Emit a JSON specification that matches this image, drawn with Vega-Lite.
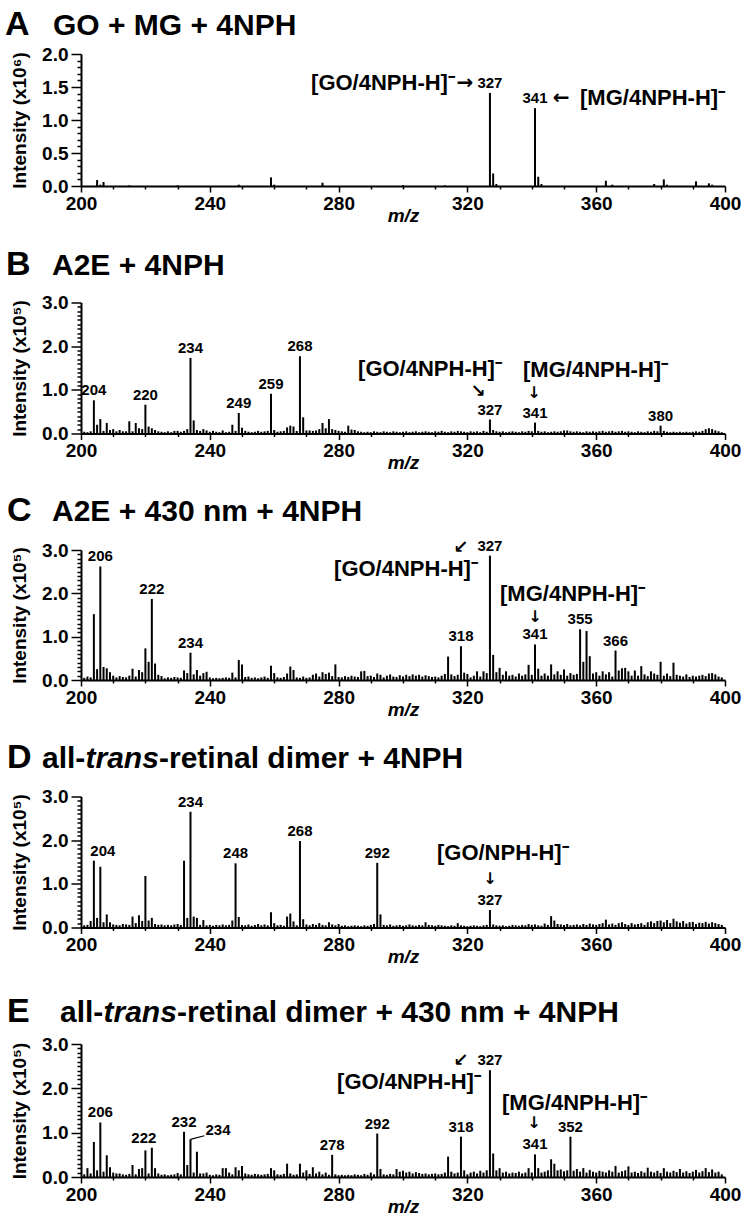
{
"$schema": "https://vega.github.io/schema/vega-lite/v6.json",
"padding": {"left": 5, "top": 8, "right": 5, "bottom": 5},
"spacing": 116.5,
"bounds": "flush",
"config": {
 "view": {"stroke": null},
 "font": "Liberation Sans",
 "axis": {"grid": false, "domainColor": "black", "domainWidth": 2, "tickColor": "black", "tickWidth": 1.5, "labelColor": "black", "labelFont": "Liberation Sans", "labelFontSize": 19, "labelFontWeight": "bold", "titleColor": "black", "titleFont": "Liberation Sans", "titleFontSize": 19, "titleFontWeight": "bold", "labelOverlap": false},
 "text": {"font": "Liberation Sans", "fontWeight": "bold", "color": "black"},
 "rule": {"color": "black"}
},
"datasets": {
"spec": [
{"p":"A","mz":205,"i":0.09},{"p":"A","mz":206,"i":0.02},{"p":"A","mz":207,"i":0.06},{"p":"A","mz":215,"i":0.01},{"p":"A","mz":230,"i":0.01},{"p":"A","mz":249,"i":0.02},{"p":"A","mz":259,"i":0.13},{"p":"A","mz":260,"i":0.02},{"p":"A","mz":275,"i":0.05},{"p":"A","mz":300,"i":0.01},{"p":"A","mz":313,"i":0.01},{"p":"A","mz":327,"i":1.41,"L":1},{"p":"A","mz":328,"i":0.19},{"p":"A","mz":329,"i":0.03},{"p":"A","mz":341,"i":1.18,"L":1},{"p":"A","mz":342,"i":0.14},{"p":"A","mz":343,"i":0.03},{"p":"A","mz":363,"i":0.08},{"p":"A","mz":365,"i":0.02},{"p":"A","mz":378,"i":0.03},{"p":"A","mz":381,"i":0.1},{"p":"A","mz":382,"i":0.02},{"p":"A","mz":391,"i":0.07},{"p":"A","mz":395,"i":0.04},{"p":"A","mz":396,"i":0.02},

{"p":"B","mz":201,"i":0.04},{"p":"B","mz":202,"i":0.03},{"p":"B","mz":203,"i":0.05},{"p":"B","mz":204,"i":0.76,"L":1},{"p":"B","mz":205,"i":0.2},{"p":"B","mz":206,"i":0.33},{"p":"B","mz":207,"i":0.06},{"p":"B","mz":208,"i":0.24},{"p":"B","mz":209,"i":0.08},{"p":"B","mz":210,"i":0.1},
{"p":"B","mz":211,"i":0.05},{"p":"B","mz":212,"i":0.08},{"p":"B","mz":213,"i":0.05},{"p":"B","mz":214,"i":0.05},{"p":"B","mz":215,"i":0.28},{"p":"B","mz":216,"i":0.05},{"p":"B","mz":217,"i":0.24},{"p":"B","mz":218,"i":0.12},{"p":"B","mz":219,"i":0.1},{"p":"B","mz":220,"i":0.66,"L":1},
{"p":"B","mz":221,"i":0.16},{"p":"B","mz":222,"i":0.12},{"p":"B","mz":223,"i":0.08},{"p":"B","mz":224,"i":0.05},{"p":"B","mz":225,"i":0.04},{"p":"B","mz":226,"i":0.03},{"p":"B","mz":227,"i":0.05},{"p":"B","mz":228,"i":0.03},{"p":"B","mz":229,"i":0.06},{"p":"B","mz":230,"i":0.06},
{"p":"B","mz":231,"i":0.04},{"p":"B","mz":232,"i":0.06},{"p":"B","mz":233,"i":0.1},{"p":"B","mz":234,"i":1.73,"L":1},{"p":"B","mz":235,"i":0.3},{"p":"B","mz":236,"i":0.08},{"p":"B","mz":237,"i":0.06},{"p":"B","mz":238,"i":0.1},{"p":"B","mz":239,"i":0.07},{"p":"B","mz":240,"i":0.04},
{"p":"B","mz":241,"i":0.06},{"p":"B","mz":242,"i":0.04},{"p":"B","mz":243,"i":0.03},{"p":"B","mz":244,"i":0.07},{"p":"B","mz":245,"i":0.03},{"p":"B","mz":246,"i":0.04},{"p":"B","mz":247,"i":0.2},{"p":"B","mz":248,"i":0.06},{"p":"B","mz":249,"i":0.47,"L":1},{"p":"B","mz":250,"i":0.13},
{"p":"B","mz":251,"i":0.06},{"p":"B","mz":252,"i":0.04},{"p":"B","mz":253,"i":0.03},{"p":"B","mz":254,"i":0.04},{"p":"B","mz":255,"i":0.06},{"p":"B","mz":256,"i":0.04},{"p":"B","mz":257,"i":0.05},{"p":"B","mz":258,"i":0.06},{"p":"B","mz":259,"i":0.91,"L":1},{"p":"B","mz":260,"i":0.08},
{"p":"B","mz":261,"i":0.04},{"p":"B","mz":262,"i":0.05},{"p":"B","mz":263,"i":0.06},{"p":"B","mz":264,"i":0.14},{"p":"B","mz":265,"i":0.18},{"p":"B","mz":266,"i":0.16},{"p":"B","mz":267,"i":0.06},{"p":"B","mz":268,"i":1.77,"L":1},{"p":"B","mz":269,"i":0.37},{"p":"B","mz":270,"i":0.07},
{"p":"B","mz":271,"i":0.07},{"p":"B","mz":272,"i":0.06},{"p":"B","mz":273,"i":0.07},{"p":"B","mz":274,"i":0.1},{"p":"B","mz":275,"i":0.24},{"p":"B","mz":276,"i":0.12},{"p":"B","mz":277,"i":0.33},{"p":"B","mz":278,"i":0.1},{"p":"B","mz":279,"i":0.08},{"p":"B","mz":280,"i":0.06},
{"p":"B","mz":281,"i":0.05},{"p":"B","mz":282,"i":0.04},{"p":"B","mz":283,"i":0.18},{"p":"B","mz":284,"i":0.09},{"p":"B","mz":285,"i":0.08},{"p":"B","mz":286,"i":0.05},{"p":"B","mz":287,"i":0.04},{"p":"B","mz":288,"i":0.03},{"p":"B","mz":289,"i":0.04},{"p":"B","mz":290,"i":0.03},
{"p":"B","mz":291,"i":0.05},{"p":"B","mz":292,"i":0.04},{"p":"B","mz":293,"i":0.03},{"p":"B","mz":294,"i":0.05},{"p":"B","mz":295,"i":0.04},{"p":"B","mz":296,"i":0.03},{"p":"B","mz":297,"i":0.05},{"p":"B","mz":298,"i":0.04},{"p":"B","mz":299,"i":0.03},{"p":"B","mz":300,"i":0.04},
{"p":"B","mz":301,"i":0.05},{"p":"B","mz":302,"i":0.03},{"p":"B","mz":303,"i":0.04},{"p":"B","mz":304,"i":0.05},{"p":"B","mz":305,"i":0.03},{"p":"B","mz":306,"i":0.04},{"p":"B","mz":307,"i":0.05},{"p":"B","mz":308,"i":0.04},{"p":"B","mz":309,"i":0.03},{"p":"B","mz":310,"i":0.05},
{"p":"B","mz":311,"i":0.04},{"p":"B","mz":312,"i":0.06},{"p":"B","mz":313,"i":0.04},{"p":"B","mz":314,"i":0.03},{"p":"B","mz":315,"i":0.05},{"p":"B","mz":316,"i":0.04},{"p":"B","mz":317,"i":0.06},{"p":"B","mz":318,"i":0.05},{"p":"B","mz":319,"i":0.04},{"p":"B","mz":320,"i":0.03},
{"p":"B","mz":321,"i":0.05},{"p":"B","mz":322,"i":0.04},{"p":"B","mz":323,"i":0.05},{"p":"B","mz":324,"i":0.03},{"p":"B","mz":325,"i":0.06},{"p":"B","mz":326,"i":0.04},{"p":"B","mz":327,"i":0.32,"L":1},{"p":"B","mz":328,"i":0.08},{"p":"B","mz":329,"i":0.05},{"p":"B","mz":330,"i":0.04},
{"p":"B","mz":331,"i":0.05},{"p":"B","mz":332,"i":0.03},{"p":"B","mz":333,"i":0.04},{"p":"B","mz":334,"i":0.05},{"p":"B","mz":335,"i":0.04},{"p":"B","mz":336,"i":0.03},{"p":"B","mz":337,"i":0.05},{"p":"B","mz":338,"i":0.04},{"p":"B","mz":339,"i":0.06},{"p":"B","mz":340,"i":0.05},
{"p":"B","mz":341,"i":0.25,"L":1},{"p":"B","mz":342,"i":0.06},{"p":"B","mz":343,"i":0.04},{"p":"B","mz":344,"i":0.05},{"p":"B","mz":345,"i":0.03},{"p":"B","mz":346,"i":0.04},{"p":"B","mz":347,"i":0.05},{"p":"B","mz":348,"i":0.04},{"p":"B","mz":349,"i":0.05},{"p":"B","mz":350,"i":0.07},
{"p":"B","mz":351,"i":0.07},{"p":"B","mz":352,"i":0.05},{"p":"B","mz":353,"i":0.04},{"p":"B","mz":354,"i":0.05},{"p":"B","mz":355,"i":0.04},{"p":"B","mz":356,"i":0.03},{"p":"B","mz":357,"i":0.05},{"p":"B","mz":358,"i":0.04},{"p":"B","mz":359,"i":0.05},{"p":"B","mz":360,"i":0.04},
{"p":"B","mz":361,"i":0.05},{"p":"B","mz":362,"i":0.06},{"p":"B","mz":363,"i":0.04},{"p":"B","mz":364,"i":0.05},{"p":"B","mz":365,"i":0.06},{"p":"B","mz":366,"i":0.04},{"p":"B","mz":367,"i":0.05},{"p":"B","mz":368,"i":0.06},{"p":"B","mz":369,"i":0.04},{"p":"B","mz":370,"i":0.05},
{"p":"B","mz":371,"i":0.04},{"p":"B","mz":372,"i":0.03},{"p":"B","mz":373,"i":0.05},{"p":"B","mz":374,"i":0.04},{"p":"B","mz":375,"i":0.03},{"p":"B","mz":376,"i":0.05},{"p":"B","mz":377,"i":0.04},{"p":"B","mz":378,"i":0.06},{"p":"B","mz":379,"i":0.05},{"p":"B","mz":380,"i":0.18,"L":1},
{"p":"B","mz":381,"i":0.06},{"p":"B","mz":382,"i":0.04},{"p":"B","mz":383,"i":0.03},{"p":"B","mz":384,"i":0.04},{"p":"B","mz":385,"i":0.03},{"p":"B","mz":386,"i":0.04},{"p":"B","mz":387,"i":0.03},{"p":"B","mz":388,"i":0.04},{"p":"B","mz":389,"i":0.03},{"p":"B","mz":390,"i":0.04},
{"p":"B","mz":391,"i":0.05},{"p":"B","mz":392,"i":0.04},{"p":"B","mz":393,"i":0.06},{"p":"B","mz":394,"i":0.1},{"p":"B","mz":395,"i":0.12},{"p":"B","mz":396,"i":0.1},{"p":"B","mz":397,"i":0.07},{"p":"B","mz":398,"i":0.05},{"p":"B","mz":399,"i":0.03},

{"p":"C","mz":201,"i":0.05},{"p":"C","mz":202,"i":0.08},{"p":"C","mz":203,"i":0.06},{"p":"C","mz":204,"i":1.52},{"p":"C","mz":205,"i":0.25},{"p":"C","mz":206,"i":2.62,"L":1},{"p":"C","mz":207,"i":0.3},{"p":"C","mz":208,"i":0.27},{"p":"C","mz":209,"i":0.18},{"p":"C","mz":210,"i":0.1},
{"p":"C","mz":211,"i":0.06},{"p":"C","mz":212,"i":0.09},{"p":"C","mz":213,"i":0.07},{"p":"C","mz":214,"i":0.06},{"p":"C","mz":215,"i":0.1},{"p":"C","mz":216,"i":0.26},{"p":"C","mz":217,"i":0.08},{"p":"C","mz":218,"i":0.23},{"p":"C","mz":219,"i":0.18},{"p":"C","mz":220,"i":0.73},
{"p":"C","mz":221,"i":0.42},{"p":"C","mz":222,"i":1.87,"L":1},{"p":"C","mz":223,"i":0.38},{"p":"C","mz":224,"i":0.12},{"p":"C","mz":225,"i":0.09},{"p":"C","mz":226,"i":0.04},{"p":"C","mz":227,"i":0.06},{"p":"C","mz":228,"i":0.05},{"p":"C","mz":229,"i":0.07},{"p":"C","mz":230,"i":0.06},
{"p":"C","mz":231,"i":0.05},{"p":"C","mz":232,"i":0.22},{"p":"C","mz":233,"i":0.16},{"p":"C","mz":234,"i":0.63,"L":1},{"p":"C","mz":235,"i":0.13},{"p":"C","mz":236,"i":0.23},{"p":"C","mz":237,"i":0.1},{"p":"C","mz":238,"i":0.16},{"p":"C","mz":239,"i":0.19},{"p":"C","mz":240,"i":0.06},
{"p":"C","mz":241,"i":0.04},{"p":"C","mz":242,"i":0.05},{"p":"C","mz":243,"i":0.04},{"p":"C","mz":244,"i":0.05},{"p":"C","mz":245,"i":0.06},{"p":"C","mz":246,"i":0.05},{"p":"C","mz":247,"i":0.17},{"p":"C","mz":248,"i":0.06},{"p":"C","mz":249,"i":0.46},{"p":"C","mz":250,"i":0.36},
{"p":"C","mz":251,"i":0.07},{"p":"C","mz":252,"i":0.08},{"p":"C","mz":253,"i":0.05},{"p":"C","mz":254,"i":0.06},{"p":"C","mz":255,"i":0.04},{"p":"C","mz":256,"i":0.06},{"p":"C","mz":257,"i":0.08},{"p":"C","mz":258,"i":0.05},{"p":"C","mz":259,"i":0.33},{"p":"C","mz":260,"i":0.16},
{"p":"C","mz":261,"i":0.06},{"p":"C","mz":262,"i":0.05},{"p":"C","mz":263,"i":0.07},{"p":"C","mz":264,"i":0.15},{"p":"C","mz":265,"i":0.31},{"p":"C","mz":266,"i":0.23},{"p":"C","mz":267,"i":0.06},{"p":"C","mz":268,"i":0.05},{"p":"C","mz":269,"i":0.08},{"p":"C","mz":270,"i":0.05},
{"p":"C","mz":271,"i":0.06},{"p":"C","mz":272,"i":0.12},{"p":"C","mz":273,"i":0.15},{"p":"C","mz":274,"i":0.08},{"p":"C","mz":275,"i":0.18},{"p":"C","mz":276,"i":0.14},{"p":"C","mz":277,"i":0.17},{"p":"C","mz":278,"i":0.09},{"p":"C","mz":279,"i":0.36},{"p":"C","mz":280,"i":0.07},
{"p":"C","mz":281,"i":0.06},{"p":"C","mz":282,"i":0.09},{"p":"C","mz":283,"i":0.07},{"p":"C","mz":284,"i":0.1},{"p":"C","mz":285,"i":0.08},{"p":"C","mz":286,"i":0.07},{"p":"C","mz":287,"i":0.2},{"p":"C","mz":288,"i":0.21},{"p":"C","mz":289,"i":0.09},{"p":"C","mz":290,"i":0.1},
{"p":"C","mz":291,"i":0.07},{"p":"C","mz":292,"i":0.15},{"p":"C","mz":293,"i":0.12},{"p":"C","mz":294,"i":0.06},{"p":"C","mz":295,"i":0.1},{"p":"C","mz":296,"i":0.13},{"p":"C","mz":297,"i":0.08},{"p":"C","mz":298,"i":0.07},{"p":"C","mz":299,"i":0.11},{"p":"C","mz":300,"i":0.08},
{"p":"C","mz":301,"i":0.12},{"p":"C","mz":302,"i":0.09},{"p":"C","mz":303,"i":0.13},{"p":"C","mz":304,"i":0.1},{"p":"C","mz":305,"i":0.12},{"p":"C","mz":306,"i":0.08},{"p":"C","mz":307,"i":0.11},{"p":"C","mz":308,"i":0.09},{"p":"C","mz":309,"i":0.07},{"p":"C","mz":310,"i":0.08},
{"p":"C","mz":311,"i":0.06},{"p":"C","mz":312,"i":0.1},{"p":"C","mz":313,"i":0.14},{"p":"C","mz":314,"i":0.54},{"p":"C","mz":315,"i":0.13},{"p":"C","mz":316,"i":0.09},{"p":"C","mz":317,"i":0.12},{"p":"C","mz":318,"i":0.78,"L":1},{"p":"C","mz":319,"i":0.17},{"p":"C","mz":320,"i":0.14},
{"p":"C","mz":321,"i":0.06},{"p":"C","mz":322,"i":0.1},{"p":"C","mz":323,"i":0.2},{"p":"C","mz":324,"i":0.08},{"p":"C","mz":325,"i":0.2},{"p":"C","mz":326,"i":0.16},{"p":"C","mz":327,"i":2.87,"L":1},{"p":"C","mz":328,"i":0.58},{"p":"C","mz":329,"i":0.18},{"p":"C","mz":330,"i":0.28},
{"p":"C","mz":331,"i":0.12},{"p":"C","mz":332,"i":0.2},{"p":"C","mz":333,"i":0.1},{"p":"C","mz":334,"i":0.12},{"p":"C","mz":335,"i":0.08},{"p":"C","mz":336,"i":0.15},{"p":"C","mz":337,"i":0.1},{"p":"C","mz":338,"i":0.13},{"p":"C","mz":339,"i":0.35},{"p":"C","mz":340,"i":0.12},
{"p":"C","mz":341,"i":0.82,"L":1},{"p":"C","mz":342,"i":0.26},{"p":"C","mz":343,"i":0.1},{"p":"C","mz":344,"i":0.15},{"p":"C","mz":345,"i":0.1},{"p":"C","mz":346,"i":0.36},{"p":"C","mz":347,"i":0.13},{"p":"C","mz":348,"i":0.2},{"p":"C","mz":349,"i":0.12},{"p":"C","mz":350,"i":0.24},
{"p":"C","mz":351,"i":0.1},{"p":"C","mz":352,"i":0.16},{"p":"C","mz":353,"i":0.12},{"p":"C","mz":354,"i":0.14},{"p":"C","mz":355,"i":1.17,"L":1},{"p":"C","mz":356,"i":0.42},{"p":"C","mz":357,"i":1.13},{"p":"C","mz":358,"i":0.55},{"p":"C","mz":359,"i":0.15},{"p":"C","mz":360,"i":0.18},
{"p":"C","mz":361,"i":0.1},{"p":"C","mz":362,"i":0.2},{"p":"C","mz":363,"i":0.13},{"p":"C","mz":364,"i":0.18},{"p":"C","mz":365,"i":0.08},{"p":"C","mz":366,"i":0.68,"L":1},{"p":"C","mz":367,"i":0.22},{"p":"C","mz":368,"i":0.27},{"p":"C","mz":369,"i":0.28},{"p":"C","mz":370,"i":0.2},
{"p":"C","mz":371,"i":0.1},{"p":"C","mz":372,"i":0.22},{"p":"C","mz":373,"i":0.1},{"p":"C","mz":374,"i":0.32},{"p":"C","mz":375,"i":0.13},{"p":"C","mz":376,"i":0.09},{"p":"C","mz":377,"i":0.2},{"p":"C","mz":378,"i":0.15},{"p":"C","mz":379,"i":0.12},{"p":"C","mz":380,"i":0.42},
{"p":"C","mz":381,"i":0.1},{"p":"C","mz":382,"i":0.15},{"p":"C","mz":383,"i":0.09},{"p":"C","mz":384,"i":0.4},{"p":"C","mz":385,"i":0.12},{"p":"C","mz":386,"i":0.1},{"p":"C","mz":387,"i":0.08},{"p":"C","mz":388,"i":0.13},{"p":"C","mz":389,"i":0.07},{"p":"C","mz":390,"i":0.1},
{"p":"C","mz":391,"i":0.08},{"p":"C","mz":392,"i":0.1},{"p":"C","mz":393,"i":0.12},{"p":"C","mz":394,"i":0.09},{"p":"C","mz":395,"i":0.15},{"p":"C","mz":396,"i":0.16},{"p":"C","mz":397,"i":0.13},{"p":"C","mz":398,"i":0.08},{"p":"C","mz":399,"i":0.06},

{"p":"D","mz":201,"i":0.05},{"p":"D","mz":202,"i":0.06},{"p":"D","mz":203,"i":0.15},{"p":"D","mz":204,"i":1.53,"L":3},{"p":"D","mz":205,"i":0.22},{"p":"D","mz":206,"i":1.39},{"p":"D","mz":207,"i":0.12},{"p":"D","mz":208,"i":0.3},{"p":"D","mz":209,"i":0.12},{"p":"D","mz":210,"i":0.07},
{"p":"D","mz":211,"i":0.06},{"p":"D","mz":212,"i":0.05},{"p":"D","mz":213,"i":0.08},{"p":"D","mz":214,"i":0.07},{"p":"D","mz":215,"i":0.06},{"p":"D","mz":216,"i":0.25},{"p":"D","mz":217,"i":0.1},{"p":"D","mz":218,"i":0.28},{"p":"D","mz":219,"i":0.15},{"p":"D","mz":220,"i":1.18},
{"p":"D","mz":221,"i":0.16},{"p":"D","mz":222,"i":0.22},{"p":"D","mz":223,"i":0.08},{"p":"D","mz":224,"i":0.06},{"p":"D","mz":225,"i":0.07},{"p":"D","mz":226,"i":0.05},{"p":"D","mz":227,"i":0.06},{"p":"D","mz":228,"i":0.05},{"p":"D","mz":229,"i":0.07},{"p":"D","mz":230,"i":0.08},
{"p":"D","mz":231,"i":0.06},{"p":"D","mz":232,"i":1.53},{"p":"D","mz":233,"i":0.22},{"p":"D","mz":234,"i":2.65,"L":1},{"p":"D","mz":235,"i":0.25},{"p":"D","mz":236,"i":0.22},{"p":"D","mz":237,"i":0.06},{"p":"D","mz":238,"i":0.17},{"p":"D","mz":239,"i":0.05},{"p":"D","mz":240,"i":0.06},
{"p":"D","mz":241,"i":0.04},{"p":"D","mz":242,"i":0.06},{"p":"D","mz":243,"i":0.05},{"p":"D","mz":244,"i":0.07},{"p":"D","mz":245,"i":0.05},{"p":"D","mz":246,"i":0.06},{"p":"D","mz":247,"i":0.16},{"p":"D","mz":248,"i":1.47,"L":1},{"p":"D","mz":249,"i":0.24},{"p":"D","mz":250,"i":0.06},
{"p":"D","mz":251,"i":0.05},{"p":"D","mz":252,"i":0.07},{"p":"D","mz":253,"i":0.04},{"p":"D","mz":254,"i":0.06},{"p":"D","mz":255,"i":0.08},{"p":"D","mz":256,"i":0.05},{"p":"D","mz":257,"i":0.07},{"p":"D","mz":258,"i":0.05},{"p":"D","mz":259,"i":0.35},{"p":"D","mz":260,"i":0.1},
{"p":"D","mz":261,"i":0.05},{"p":"D","mz":262,"i":0.06},{"p":"D","mz":263,"i":0.04},{"p":"D","mz":264,"i":0.25},{"p":"D","mz":265,"i":0.32},{"p":"D","mz":266,"i":0.14},{"p":"D","mz":267,"i":0.05},{"p":"D","mz":268,"i":1.98,"L":1},{"p":"D","mz":269,"i":0.19},{"p":"D","mz":270,"i":0.07},
{"p":"D","mz":271,"i":0.05},{"p":"D","mz":272,"i":0.08},{"p":"D","mz":273,"i":0.06},{"p":"D","mz":274,"i":0.1},{"p":"D","mz":275,"i":0.06},{"p":"D","mz":276,"i":0.05},{"p":"D","mz":277,"i":0.12},{"p":"D","mz":278,"i":0.07},{"p":"D","mz":279,"i":0.05},{"p":"D","mz":280,"i":0.08},
{"p":"D","mz":281,"i":0.04},{"p":"D","mz":282,"i":0.05},{"p":"D","mz":283,"i":0.03},{"p":"D","mz":284,"i":0.04},{"p":"D","mz":285,"i":0.05},{"p":"D","mz":286,"i":0.04},{"p":"D","mz":287,"i":0.03},{"p":"D","mz":288,"i":0.05},{"p":"D","mz":289,"i":0.04},{"p":"D","mz":290,"i":0.06},
{"p":"D","mz":291,"i":0.08},{"p":"D","mz":292,"i":1.48,"L":1},{"p":"D","mz":293,"i":0.3},{"p":"D","mz":294,"i":0.06},{"p":"D","mz":295,"i":0.05},{"p":"D","mz":296,"i":0.07},{"p":"D","mz":297,"i":0.04},{"p":"D","mz":298,"i":0.05},{"p":"D","mz":299,"i":0.06},{"p":"D","mz":300,"i":0.04},
{"p":"D","mz":301,"i":0.05},{"p":"D","mz":302,"i":0.07},{"p":"D","mz":303,"i":0.05},{"p":"D","mz":304,"i":0.04},{"p":"D","mz":305,"i":0.06},{"p":"D","mz":306,"i":0.05},{"p":"D","mz":307,"i":0.12},{"p":"D","mz":308,"i":0.06},{"p":"D","mz":309,"i":0.05},{"p":"D","mz":310,"i":0.04},
{"p":"D","mz":311,"i":0.06},{"p":"D","mz":312,"i":0.05},{"p":"D","mz":313,"i":0.04},{"p":"D","mz":314,"i":0.03},{"p":"D","mz":315,"i":0.05},{"p":"D","mz":316,"i":0.04},{"p":"D","mz":317,"i":0.1},{"p":"D","mz":318,"i":0.05},{"p":"D","mz":319,"i":0.04},{"p":"D","mz":320,"i":0.03},
{"p":"D","mz":321,"i":0.04},{"p":"D","mz":322,"i":0.05},{"p":"D","mz":323,"i":0.04},{"p":"D","mz":324,"i":0.03},{"p":"D","mz":325,"i":0.05},{"p":"D","mz":326,"i":0.06},{"p":"D","mz":327,"i":0.4,"L":1},{"p":"D","mz":328,"i":0.07},{"p":"D","mz":329,"i":0.05},{"p":"D","mz":330,"i":0.04},
{"p":"D","mz":331,"i":0.05},{"p":"D","mz":332,"i":0.03},{"p":"D","mz":333,"i":0.04},{"p":"D","mz":334,"i":0.06},{"p":"D","mz":335,"i":0.05},{"p":"D","mz":336,"i":0.04},{"p":"D","mz":337,"i":0.06},{"p":"D","mz":338,"i":0.05},{"p":"D","mz":339,"i":0.08},{"p":"D","mz":340,"i":0.06},
{"p":"D","mz":341,"i":0.07},{"p":"D","mz":342,"i":0.05},{"p":"D","mz":343,"i":0.04},{"p":"D","mz":344,"i":0.09},{"p":"D","mz":345,"i":0.06},{"p":"D","mz":346,"i":0.26},{"p":"D","mz":347,"i":0.16},{"p":"D","mz":348,"i":0.08},{"p":"D","mz":349,"i":0.07},{"p":"D","mz":350,"i":0.06},
{"p":"D","mz":351,"i":0.08},{"p":"D","mz":352,"i":0.05},{"p":"D","mz":353,"i":0.06},{"p":"D","mz":354,"i":0.07},{"p":"D","mz":355,"i":0.05},{"p":"D","mz":356,"i":0.08},{"p":"D","mz":357,"i":0.06},{"p":"D","mz":358,"i":0.09},{"p":"D","mz":359,"i":0.07},{"p":"D","mz":360,"i":0.06},
{"p":"D","mz":361,"i":0.08},{"p":"D","mz":362,"i":0.1},{"p":"D","mz":363,"i":0.18},{"p":"D","mz":364,"i":0.07},{"p":"D","mz":365,"i":0.09},{"p":"D","mz":366,"i":0.06},{"p":"D","mz":367,"i":0.1},{"p":"D","mz":368,"i":0.12},{"p":"D","mz":369,"i":0.08},{"p":"D","mz":370,"i":0.06},
{"p":"D","mz":371,"i":0.1},{"p":"D","mz":372,"i":0.07},{"p":"D","mz":373,"i":0.08},{"p":"D","mz":374,"i":0.1},{"p":"D","mz":375,"i":0.06},{"p":"D","mz":376,"i":0.12},{"p":"D","mz":377,"i":0.14},{"p":"D","mz":378,"i":0.1},{"p":"D","mz":379,"i":0.15},{"p":"D","mz":380,"i":0.16},
{"p":"D","mz":381,"i":0.12},{"p":"D","mz":382,"i":0.17},{"p":"D","mz":383,"i":0.1},{"p":"D","mz":384,"i":0.2},{"p":"D","mz":385,"i":0.14},{"p":"D","mz":386,"i":0.11},{"p":"D","mz":387,"i":0.15},{"p":"D","mz":388,"i":0.09},{"p":"D","mz":389,"i":0.12},{"p":"D","mz":390,"i":0.13},
{"p":"D","mz":391,"i":0.08},{"p":"D","mz":392,"i":0.11},{"p":"D","mz":393,"i":0.1},{"p":"D","mz":394,"i":0.13},{"p":"D","mz":395,"i":0.09},{"p":"D","mz":396,"i":0.12},{"p":"D","mz":397,"i":0.1},{"p":"D","mz":398,"i":0.08},{"p":"D","mz":399,"i":0.06},

{"p":"E","mz":201,"i":0.06},{"p":"E","mz":202,"i":0.2},{"p":"E","mz":203,"i":0.08},{"p":"E","mz":204,"i":0.79},{"p":"E","mz":205,"i":0.15},{"p":"E","mz":206,"i":1.23,"L":1},{"p":"E","mz":207,"i":0.12},{"p":"E","mz":208,"i":0.49},{"p":"E","mz":209,"i":0.22},{"p":"E","mz":210,"i":0.1},
{"p":"E","mz":211,"i":0.08},{"p":"E","mz":212,"i":0.08},{"p":"E","mz":213,"i":0.06},{"p":"E","mz":214,"i":0.05},{"p":"E","mz":215,"i":0.07},{"p":"E","mz":216,"i":0.27},{"p":"E","mz":217,"i":0.06},{"p":"E","mz":218,"i":0.18},{"p":"E","mz":219,"i":0.2},{"p":"E","mz":220,"i":0.6},
{"p":"E","mz":221,"i":0.08},{"p":"E","mz":222,"i":0.66,"L":4},{"p":"E","mz":223,"i":0.2},{"p":"E","mz":224,"i":0.08},{"p":"E","mz":225,"i":0.05},{"p":"E","mz":226,"i":0.06},{"p":"E","mz":227,"i":0.04},{"p":"E","mz":228,"i":0.05},{"p":"E","mz":229,"i":0.06},{"p":"E","mz":230,"i":0.09},
{"p":"E","mz":231,"i":0.06},{"p":"E","mz":232,"i":1.02,"L":1},{"p":"E","mz":233,"i":0.27},{"p":"E","mz":234,"i":0.85,"L":2},{"p":"E","mz":235,"i":0.1},{"p":"E","mz":236,"i":0.57},{"p":"E","mz":237,"i":0.08},{"p":"E","mz":238,"i":0.08},{"p":"E","mz":239,"i":0.1},{"p":"E","mz":240,"i":0.05},
{"p":"E","mz":241,"i":0.04},{"p":"E","mz":242,"i":0.06},{"p":"E","mz":243,"i":0.05},{"p":"E","mz":244,"i":0.2},{"p":"E","mz":245,"i":0.2},{"p":"E","mz":246,"i":0.1},{"p":"E","mz":247,"i":0.06},{"p":"E","mz":248,"i":0.22},{"p":"E","mz":249,"i":0.15},{"p":"E","mz":250,"i":0.25},
{"p":"E","mz":251,"i":0.08},{"p":"E","mz":252,"i":0.06},{"p":"E","mz":253,"i":0.05},{"p":"E","mz":254,"i":0.07},{"p":"E","mz":255,"i":0.06},{"p":"E","mz":256,"i":0.05},{"p":"E","mz":257,"i":0.06},{"p":"E","mz":258,"i":0.07},{"p":"E","mz":259,"i":0.2},{"p":"E","mz":260,"i":0.15},
{"p":"E","mz":261,"i":0.06},{"p":"E","mz":262,"i":0.05},{"p":"E","mz":263,"i":0.07},{"p":"E","mz":264,"i":0.3},{"p":"E","mz":265,"i":0.08},{"p":"E","mz":266,"i":0.05},{"p":"E","mz":267,"i":0.06},{"p":"E","mz":268,"i":0.3},{"p":"E","mz":269,"i":0.1},{"p":"E","mz":270,"i":0.15},
{"p":"E","mz":271,"i":0.07},{"p":"E","mz":272,"i":0.22},{"p":"E","mz":273,"i":0.08},{"p":"E","mz":274,"i":0.12},{"p":"E","mz":275,"i":0.06},{"p":"E","mz":276,"i":0.1},{"p":"E","mz":277,"i":0.05},{"p":"E","mz":278,"i":0.5,"L":1},{"p":"E","mz":279,"i":0.06},{"p":"E","mz":280,"i":0.04},
{"p":"E","mz":281,"i":0.05},{"p":"E","mz":282,"i":0.04},{"p":"E","mz":283,"i":0.05},{"p":"E","mz":284,"i":0.04},{"p":"E","mz":285,"i":0.06},{"p":"E","mz":286,"i":0.05},{"p":"E","mz":287,"i":0.04},{"p":"E","mz":288,"i":0.07},{"p":"E","mz":289,"i":0.05},{"p":"E","mz":290,"i":0.1},
{"p":"E","mz":291,"i":0.06},{"p":"E","mz":292,"i":0.98,"L":1},{"p":"E","mz":293,"i":0.18},{"p":"E","mz":294,"i":0.06},{"p":"E","mz":295,"i":0.05},{"p":"E","mz":296,"i":0.07},{"p":"E","mz":297,"i":0.06},{"p":"E","mz":298,"i":0.18},{"p":"E","mz":299,"i":0.12},{"p":"E","mz":300,"i":0.14},
{"p":"E","mz":301,"i":0.1},{"p":"E","mz":302,"i":0.12},{"p":"E","mz":303,"i":0.08},{"p":"E","mz":304,"i":0.11},{"p":"E","mz":305,"i":0.09},{"p":"E","mz":306,"i":0.07},{"p":"E","mz":307,"i":0.08},{"p":"E","mz":308,"i":0.06},{"p":"E","mz":309,"i":0.07},{"p":"E","mz":310,"i":0.08},
{"p":"E","mz":311,"i":0.06},{"p":"E","mz":312,"i":0.07},{"p":"E","mz":313,"i":0.1},{"p":"E","mz":314,"i":0.46},{"p":"E","mz":315,"i":0.12},{"p":"E","mz":316,"i":0.08},{"p":"E","mz":317,"i":0.1},{"p":"E","mz":318,"i":0.91,"L":1},{"p":"E","mz":319,"i":0.15},{"p":"E","mz":320,"i":0.06},
{"p":"E","mz":321,"i":0.1},{"p":"E","mz":322,"i":0.12},{"p":"E","mz":323,"i":0.08},{"p":"E","mz":324,"i":0.14},{"p":"E","mz":325,"i":0.1},{"p":"E","mz":326,"i":0.15},{"p":"E","mz":327,"i":2.41,"L":1},{"p":"E","mz":328,"i":0.53},{"p":"E","mz":329,"i":0.15},{"p":"E","mz":330,"i":0.2},
{"p":"E","mz":331,"i":0.1},{"p":"E","mz":332,"i":0.12},{"p":"E","mz":333,"i":0.08},{"p":"E","mz":334,"i":0.1},{"p":"E","mz":335,"i":0.09},{"p":"E","mz":336,"i":0.12},{"p":"E","mz":337,"i":0.08},{"p":"E","mz":338,"i":0.1},{"p":"E","mz":339,"i":0.2},{"p":"E","mz":340,"i":0.1},
{"p":"E","mz":341,"i":0.51,"L":1},{"p":"E","mz":342,"i":0.2},{"p":"E","mz":343,"i":0.1},{"p":"E","mz":344,"i":0.12},{"p":"E","mz":345,"i":0.15},{"p":"E","mz":346,"i":0.4},{"p":"E","mz":347,"i":0.3},{"p":"E","mz":348,"i":0.15},{"p":"E","mz":349,"i":0.17},{"p":"E","mz":350,"i":0.13},
{"p":"E","mz":351,"i":0.15},{"p":"E","mz":352,"i":0.91,"L":1},{"p":"E","mz":353,"i":0.14},{"p":"E","mz":354,"i":0.18},{"p":"E","mz":355,"i":0.12},{"p":"E","mz":356,"i":0.2},{"p":"E","mz":357,"i":0.1},{"p":"E","mz":358,"i":0.16},{"p":"E","mz":359,"i":0.12},{"p":"E","mz":360,"i":0.1},
{"p":"E","mz":361,"i":0.14},{"p":"E","mz":362,"i":0.12},{"p":"E","mz":363,"i":0.1},{"p":"E","mz":364,"i":0.15},{"p":"E","mz":365,"i":0.12},{"p":"E","mz":366,"i":0.25},{"p":"E","mz":367,"i":0.1},{"p":"E","mz":368,"i":0.13},{"p":"E","mz":369,"i":0.15},{"p":"E","mz":370,"i":0.24},
{"p":"E","mz":371,"i":0.1},{"p":"E","mz":372,"i":0.12},{"p":"E","mz":373,"i":0.09},{"p":"E","mz":374,"i":0.13},{"p":"E","mz":375,"i":0.1},{"p":"E","mz":376,"i":0.21},{"p":"E","mz":377,"i":0.12},{"p":"E","mz":378,"i":0.1},{"p":"E","mz":379,"i":0.14},{"p":"E","mz":380,"i":0.09},
{"p":"E","mz":381,"i":0.2},{"p":"E","mz":382,"i":0.12},{"p":"E","mz":383,"i":0.1},{"p":"E","mz":384,"i":0.14},{"p":"E","mz":385,"i":0.11},{"p":"E","mz":386,"i":0.18},{"p":"E","mz":387,"i":0.1},{"p":"E","mz":388,"i":0.13},{"p":"E","mz":389,"i":0.09},{"p":"E","mz":390,"i":0.12},
{"p":"E","mz":391,"i":0.16},{"p":"E","mz":392,"i":0.1},{"p":"E","mz":393,"i":0.13},{"p":"E","mz":394,"i":0.2},{"p":"E","mz":395,"i":0.11},{"p":"E","mz":396,"i":0.17},{"p":"E","mz":397,"i":0.1},{"p":"E","mz":398,"i":0.12},{"p":"E","mz":399,"i":0.06}
]
},
"vconcat": [
{
 "width": 644, "height": 132,
 "data": {"name": "spec"},
 "transform": [{"filter": "datum.p === 'A'"}],
 "encoding": {
  "x": {"field": "mz", "type": "quantitative", "title": "m/z", "scale": {"domain": [200, 400], "nice": false},
   "axis": {"values": [200,210,220,230,240,250,260,270,280,290,300,310,320,330,340,350,360,370,380,390,400], "labelExpr": "datum.value % 40 === 0 ? datum.label : ''", "tickSize": {"condition": {"test": "datum.value % 40 === 0", "value": 6}, "value": 3}, "labelFlush": false, "labelPadding": 2, "titlePadding": -7, "titleFontStyle": "italic"}},
  "y": {"field": "i", "type": "quantitative", "title": "Intensity (x10⁶)", "scale": {"domain": [0, 2], "nice": false},
   "axis": {"values": [0,0.1,0.2,0.3,0.4,0.5,0.6,0.7,0.8,0.9,1,1.1,1.2,1.3,1.4,1.5,1.6,1.7,1.8,1.9,2], "labelExpr": "round(datum.value*10) % 5 === 0 ? format(datum.value, '.1f') : ''", "tickSize": {"condition": {"test": "round(datum.value*10) % 5 === 0", "value": 10}, "value": 4}, "labelPadding": 3, "titlePadding": 12}}
 },
 "layer": [
  {"mark": {"type": "rule", "strokeWidth": 2}, "encoding": {"y2": {"datum": 0}}},
  {"transform": [{"filter": "datum.L === 1"}], "mark": {"type": "text", "fontSize": 15, "baseline": "middle", "dy": -10}, "encoding": {"text": {"field": "mz", "type": "quantitative", "format": "d"}}},
  {"transform": [{"filter": "datum.mz === 327"}], "mark": {"type": "text", "text": "[GO/4NPH-H]⁻", "fontSize": 22, "align": "right", "baseline": "middle", "dx": -35, "dy": -10}},
  {"transform": [{"filter": "datum.mz === 327"}], "mark": {"type": "text", "text": "→", "font": "DejaVu Sans", "fontSize": 20, "align": "center", "baseline": "middle", "dx": -25, "dy": -10}},
  {"transform": [{"filter": "datum.mz === 341"}], "mark": {"type": "text", "text": "←", "font": "DejaVu Sans", "fontSize": 20, "align": "center", "baseline": "middle", "dx": 26, "dy": -10}},
  {"transform": [{"filter": "datum.mz === 341"}], "mark": {"type": "text", "text": "[MG/4NPH-H]⁻", "fontSize": 22, "align": "left", "baseline": "middle", "dx": 45, "dy": -10}},
  {"transform": [{"filter": "datum.mz === 327"}], "mark": {"type": "text", "text": "A", "fontSize": 34, "align": "left", "baseline": "alphabetic", "dx": -76, "dy": -19}, "encoding": {"x": {"datum": 200}, "y": {"datum": 2}}},
  {"transform": [{"filter": "datum.mz === 327"}], "mark": {"type": "text", "text": "GO + MG + 4NPH", "fontSize": 30, "align": "left", "baseline": "alphabetic", "dx": -28, "dy": -19}, "encoding": {"x": {"datum": 200}, "y": {"datum": 2}}}
 ]
},
{
 "width": 644, "height": 131,
 "data": {"name": "spec"},
 "transform": [{"filter": "datum.p === 'B'"}],
 "encoding": {
  "x": {"field": "mz", "type": "quantitative", "title": "m/z", "scale": {"domain": [200, 400], "nice": false},
   "axis": {"values": [200,210,220,230,240,250,260,270,280,290,300,310,320,330,340,350,360,370,380,390,400], "labelExpr": "datum.value % 40 === 0 ? datum.label : ''", "tickSize": {"condition": {"test": "datum.value % 40 === 0", "value": 6}, "value": 3}, "labelFlush": false, "labelPadding": 2, "titlePadding": -7, "titleFontStyle": "italic"}},
  "y": {"field": "i", "type": "quantitative", "title": "Intensity (x10⁵)", "scale": {"domain": [0, 3], "nice": false},
   "axis": {"values": [0,0.1,0.2,0.3,0.4,0.5,0.6,0.7,0.8,0.9,1,1.1,1.2,1.3,1.4,1.5,1.6,1.7,1.8,1.9,2,2.1,2.2,2.3,2.4,2.5,2.6,2.7,2.8,2.9,3], "labelExpr": "round(datum.value*10) % 10 === 0 ? format(datum.value, '.1f') : ''", "tickSize": {"condition": {"test": "round(datum.value*10) % 10 === 0", "value": 10}, "value": 4}, "labelPadding": 3, "titlePadding": 12}}
 },
 "layer": [
  {"mark": {"type": "rule", "strokeWidth": 2}, "encoding": {"y2": {"datum": 0}}},
  {"transform": [{"filter": "datum.L === 1"}], "mark": {"type": "text", "fontSize": 15, "baseline": "middle", "dy": -10}, "encoding": {"text": {"field": "mz", "type": "quantitative", "format": "d"}}},
  {"transform": [{"filter": "datum.mz === 327"}], "mark": {"type": "text", "text": "[GO/4NPH-H]⁻", "fontSize": 22, "align": "right", "baseline": "middle", "dx": 12, "dy": -51}},
  {"transform": [{"filter": "datum.mz === 327"}], "mark": {"type": "text", "text": "↘", "font": "DejaVu Sans", "fontSize": 18, "align": "center", "baseline": "middle", "dx": -12, "dy": -28}},
  {"transform": [{"filter": "datum.mz === 341"}], "mark": {"type": "text", "text": "↓", "font": "DejaVu Sans", "fontSize": 16, "align": "center", "baseline": "middle", "dx": -1, "dy": -30}},
  {"transform": [{"filter": "datum.mz === 341"}], "mark": {"type": "text", "text": "[MG/4NPH-H]⁻", "fontSize": 22, "align": "left", "baseline": "middle", "dx": -12, "dy": -53}},
  {"transform": [{"filter": "datum.mz === 327"}], "mark": {"type": "text", "text": "B", "fontSize": 34, "align": "left", "baseline": "alphabetic", "dx": -75, "dy": -28}, "encoding": {"x": {"datum": 200}, "y": {"datum": 3}}},
  {"transform": [{"filter": "datum.mz === 327"}], "mark": {"type": "text", "text": "A2E + 4NPH", "fontSize": 30, "align": "left", "baseline": "alphabetic", "dx": -29, "dy": -28}, "encoding": {"x": {"datum": 200}, "y": {"datum": 3}}}
 ]
},
{
 "width": 644, "height": 130,
 "data": {"name": "spec"},
 "transform": [{"filter": "datum.p === 'C'"}],
 "encoding": {
  "x": {"field": "mz", "type": "quantitative", "title": "m/z", "scale": {"domain": [200, 400], "nice": false},
   "axis": {"values": [200,210,220,230,240,250,260,270,280,290,300,310,320,330,340,350,360,370,380,390,400], "labelExpr": "datum.value % 40 === 0 ? datum.label : ''", "tickSize": {"condition": {"test": "datum.value % 40 === 0", "value": 6}, "value": 3}, "labelFlush": false, "labelPadding": 2, "titlePadding": -7, "titleFontStyle": "italic"}},
  "y": {"field": "i", "type": "quantitative", "title": "Intensity (x10⁵)", "scale": {"domain": [0, 3], "nice": false},
   "axis": {"values": [0,0.1,0.2,0.3,0.4,0.5,0.6,0.7,0.8,0.9,1,1.1,1.2,1.3,1.4,1.5,1.6,1.7,1.8,1.9,2,2.1,2.2,2.3,2.4,2.5,2.6,2.7,2.8,2.9,3], "labelExpr": "round(datum.value*10) % 10 === 0 ? format(datum.value, '.1f') : ''", "tickSize": {"condition": {"test": "round(datum.value*10) % 10 === 0", "value": 10}, "value": 4}, "labelPadding": 3, "titlePadding": 12}}
 },
 "layer": [
  {"mark": {"type": "rule", "strokeWidth": 2}, "encoding": {"y2": {"datum": 0}}},
  {"transform": [{"filter": "datum.L === 1"}], "mark": {"type": "text", "fontSize": 15, "baseline": "middle", "dy": -10}, "encoding": {"text": {"field": "mz", "type": "quantitative", "format": "d"}}},
  {"transform": [{"filter": "datum.mz === 327"}], "mark": {"type": "text", "text": "[GO/4NPH-H]⁻", "fontSize": 22, "align": "right", "baseline": "middle", "dx": -12, "dy": 13}},
  {"transform": [{"filter": "datum.mz === 327"}], "mark": {"type": "text", "text": "↙", "font": "DejaVu Sans", "fontSize": 18, "align": "center", "baseline": "middle", "dx": -29, "dy": -8}},
  {"transform": [{"filter": "datum.mz === 341"}], "mark": {"type": "text", "text": "↓", "font": "DejaVu Sans", "fontSize": 16, "align": "center", "baseline": "middle", "dx": 0, "dy": -27}},
  {"transform": [{"filter": "datum.mz === 341"}], "mark": {"type": "text", "text": "[MG/4NPH-H]⁻", "fontSize": 22, "align": "left", "baseline": "middle", "dx": -35, "dy": -50}},
  {"transform": [{"filter": "datum.mz === 327"}], "mark": {"type": "text", "text": "C", "fontSize": 34, "align": "left", "baseline": "alphabetic", "dx": -74, "dy": -29}, "encoding": {"x": {"datum": 200}, "y": {"datum": 3}}},
  {"transform": [{"filter": "datum.mz === 327"}], "mark": {"type": "text", "text": "A2E + 430 nm + 4NPH", "fontSize": 30, "align": "left", "baseline": "alphabetic", "dx": -29, "dy": -29}, "encoding": {"x": {"datum": 200}, "y": {"datum": 3}}}
 ]
},
{
 "width": 644, "height": 131,
 "data": {"name": "spec"},
 "transform": [{"filter": "datum.p === 'D'"}],
 "encoding": {
  "x": {"field": "mz", "type": "quantitative", "title": "m/z", "scale": {"domain": [200, 400], "nice": false},
   "axis": {"values": [200,210,220,230,240,250,260,270,280,290,300,310,320,330,340,350,360,370,380,390,400], "labelExpr": "datum.value % 40 === 0 ? datum.label : ''", "tickSize": {"condition": {"test": "datum.value % 40 === 0", "value": 6}, "value": 3}, "labelFlush": false, "labelPadding": 2, "titlePadding": -7, "titleFontStyle": "italic"}},
  "y": {"field": "i", "type": "quantitative", "title": "Intensity (x10⁵)", "scale": {"domain": [0, 3], "nice": false},
   "axis": {"values": [0,0.1,0.2,0.3,0.4,0.5,0.6,0.7,0.8,0.9,1,1.1,1.2,1.3,1.4,1.5,1.6,1.7,1.8,1.9,2,2.1,2.2,2.3,2.4,2.5,2.6,2.7,2.8,2.9,3], "labelExpr": "round(datum.value*10) % 10 === 0 ? format(datum.value, '.1f') : ''", "tickSize": {"condition": {"test": "round(datum.value*10) % 10 === 0", "value": 10}, "value": 4}, "labelPadding": 3, "titlePadding": 12}}
 },
 "layer": [
  {"mark": {"type": "rule", "strokeWidth": 2}, "encoding": {"y2": {"datum": 0}}},
  {"transform": [{"filter": "datum.L === 1"}], "mark": {"type": "text", "fontSize": 15, "baseline": "middle", "dy": -10}, "encoding": {"text": {"field": "mz", "type": "quantitative", "format": "d"}}},
  {"transform": [{"filter": "datum.L === 3"}], "mark": {"type": "text", "fontSize": 15, "baseline": "middle", "dx": 9, "dy": -10}, "encoding": {"text": {"field": "mz", "type": "quantitative", "format": "d"}}},
  {"transform": [{"filter": "datum.mz === 327"}], "mark": {"type": "text", "text": "↓", "font": "DejaVu Sans", "fontSize": 16, "align": "center", "baseline": "middle", "dx": 0, "dy": -31}},
  {"transform": [{"filter": "datum.mz === 327"}], "mark": {"type": "text", "text": "[GO/NPH-H]⁻", "fontSize": 22, "align": "left", "baseline": "middle", "dx": -53, "dy": -57}},
  {"transform": [{"filter": "datum.mz === 327"}], "mark": {"type": "text", "text": "D", "fontSize": 34, "align": "left", "baseline": "alphabetic", "dx": -74, "dy": -29}, "encoding": {"x": {"datum": 200}, "y": {"datum": 3}}},
  {"transform": [{"filter": "datum.mz === 327"}], "mark": {"type": "text", "text": "all-", "fontSize": 30, "align": "left", "baseline": "alphabetic", "dx": -39, "dy": -29}, "encoding": {"x": {"datum": 200}, "y": {"datum": 3}}},
  {"transform": [{"filter": "datum.mz === 327"}], "mark": {"type": "text", "text": "trans", "fontSize": 30, "fontStyle": "italic", "align": "left", "baseline": "alphabetic", "dx": 4.5, "dy": -29}, "encoding": {"x": {"datum": 200}, "y": {"datum": 3}}},
  {"transform": [{"filter": "datum.mz === 327"}], "mark": {"type": "text", "text": "-retinal dimer + 4NPH", "fontSize": 30, "align": "left", "baseline": "alphabetic", "dx": 78, "dy": -29}, "encoding": {"x": {"datum": 200}, "y": {"datum": 3}}}
 ]
},
{
 "width": 644, "height": 133,
 "data": {"name": "spec"},
 "transform": [{"filter": "datum.p === 'E'"}],
 "encoding": {
  "x": {"field": "mz", "type": "quantitative", "title": "m/z", "scale": {"domain": [200, 400], "nice": false},
   "axis": {"values": [200,210,220,230,240,250,260,270,280,290,300,310,320,330,340,350,360,370,380,390,400], "labelExpr": "datum.value % 40 === 0 ? datum.label : ''", "tickSize": {"condition": {"test": "datum.value % 40 === 0", "value": 6}, "value": 3}, "labelFlush": false, "labelPadding": 2, "titlePadding": -7, "titleFontStyle": "italic"}},
  "y": {"field": "i", "type": "quantitative", "title": "Intensity (x10⁵)", "scale": {"domain": [0, 3], "nice": false},
   "axis": {"values": [0,0.1,0.2,0.3,0.4,0.5,0.6,0.7,0.8,0.9,1,1.1,1.2,1.3,1.4,1.5,1.6,1.7,1.8,1.9,2,2.1,2.2,2.3,2.4,2.5,2.6,2.7,2.8,2.9,3], "labelExpr": "round(datum.value*10) % 10 === 0 ? format(datum.value, '.1f') : ''", "tickSize": {"condition": {"test": "round(datum.value*10) % 10 === 0", "value": 10}, "value": 4}, "labelPadding": 3, "titlePadding": 12}}
 },
 "layer": [
  {"mark": {"type": "rule", "strokeWidth": 2}, "encoding": {"y2": {"datum": 0}}},
  {"transform": [{"filter": "datum.L === 1"}], "mark": {"type": "text", "fontSize": 15, "baseline": "middle", "dy": -10}, "encoding": {"text": {"field": "mz", "type": "quantitative", "format": "d"}}},
  {"transform": [{"filter": "datum.L === 4"}], "mark": {"type": "text", "fontSize": 15, "baseline": "middle", "dx": -8, "dy": -10}, "encoding": {"text": {"field": "mz", "type": "quantitative", "format": "d"}}},
  {"transform": [{"filter": "datum.L === 2"}], "mark": {"type": "text", "fontSize": 15, "align": "left", "baseline": "middle", "dx": 15, "dy": -9}, "encoding": {"text": {"field": "mz", "type": "quantitative", "format": "d"}}},
  {"transform": [{"filter": "datum.L === 2"}], "mark": {"type": "rule", "strokeWidth": 1.2}, "encoding": {"x2": {"datum": 238.3}, "y2": {"datum": 0.93}}},
  {"transform": [{"filter": "datum.mz === 327"}], "mark": {"type": "text", "text": "[GO/4NPH-H]⁻", "fontSize": 22, "align": "right", "baseline": "middle", "dx": -9, "dy": 12}},
  {"transform": [{"filter": "datum.mz === 327"}], "mark": {"type": "text", "text": "↙", "font": "DejaVu Sans", "fontSize": 18, "align": "center", "baseline": "middle", "dx": -29, "dy": -9}},
  {"transform": [{"filter": "datum.mz === 341"}], "mark": {"type": "text", "text": "↓", "font": "DejaVu Sans", "fontSize": 16, "align": "center", "baseline": "middle", "dx": -1, "dy": -31}},
  {"transform": [{"filter": "datum.mz === 341"}], "mark": {"type": "text", "text": "[MG/4NPH-H]⁻", "fontSize": 22, "align": "left", "baseline": "middle", "dx": -33, "dy": -51}},
  {"transform": [{"filter": "datum.mz === 327"}], "mark": {"type": "text", "text": "E", "fontSize": 34, "align": "left", "baseline": "alphabetic", "dx": -74, "dy": -22}, "encoding": {"x": {"datum": 200}, "y": {"datum": 3}}},
  {"transform": [{"filter": "datum.mz === 327"}], "mark": {"type": "text", "text": "all-", "fontSize": 30, "align": "left", "baseline": "alphabetic", "dx": -21, "dy": -22}, "encoding": {"x": {"datum": 200}, "y": {"datum": 3}}},
  {"transform": [{"filter": "datum.mz === 327"}], "mark": {"type": "text", "text": "trans", "fontSize": 30, "fontStyle": "italic", "align": "left", "baseline": "alphabetic", "dx": 22.5, "dy": -22}, "encoding": {"x": {"datum": 200}, "y": {"datum": 3}}},
  {"transform": [{"filter": "datum.mz === 327"}], "mark": {"type": "text", "text": "-retinal dimer + 430 nm + 4NPH", "fontSize": 30, "align": "left", "baseline": "alphabetic", "dx": 96, "dy": -22}, "encoding": {"x": {"datum": 200}, "y": {"datum": 3}}}
 ]
}
]
}
